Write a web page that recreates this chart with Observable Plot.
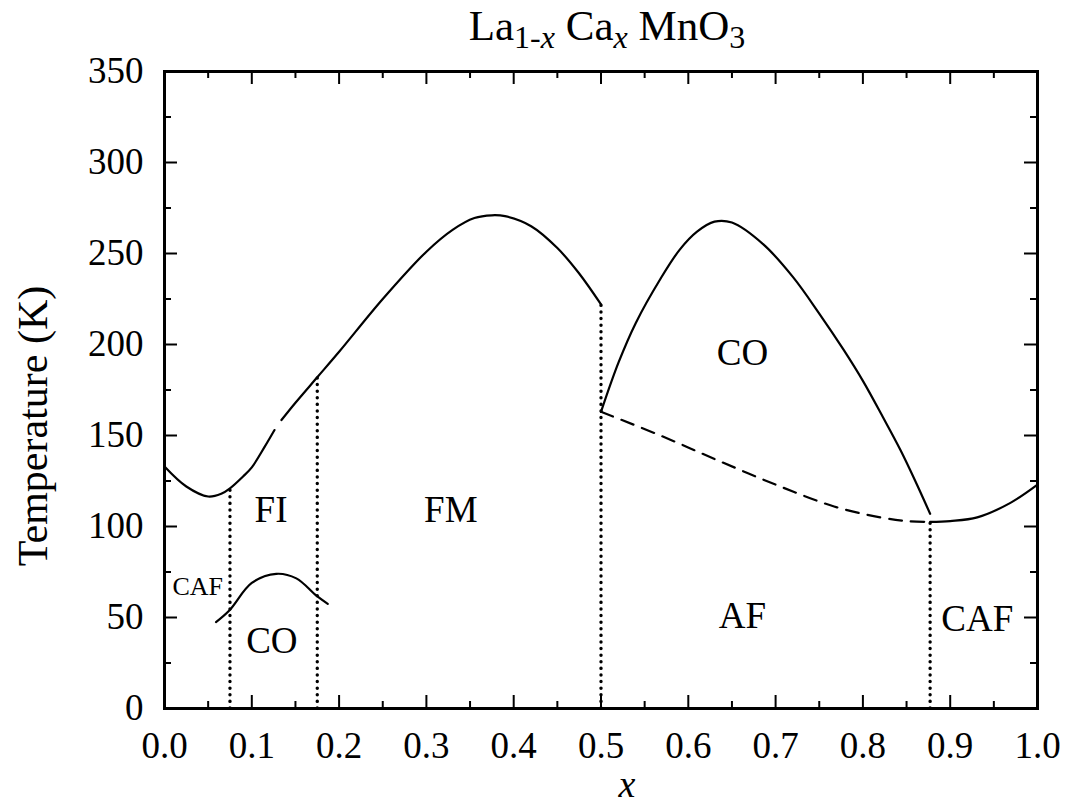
<!DOCTYPE html>
<html>
<head>
<meta charset="utf-8">
<script src="https://cdn.jsdelivr.net/npm/d3@7"></script>
<script src="https://cdn.jsdelivr.net/npm/@observablehq/plot@0.6"></script>
<style>
  body { margin: 0; background: #fff; }
  #chart svg { font-family: "Liberation Serif", "Times New Roman", serif; }
</style>
</head>
<body>
<div id="chart"></div>
<script>
// ---- data ----
const mainLeftX  = [0, 0.025, 0.05, 0.065, 0.075, 0.09, 0.1, 0.115, 0.126];
const mainLeftT  = [133, 122, 116.5, 118, 121, 127.5, 132.5, 144, 153];
const mainRightX = [0.134, 0.15, 0.175, 0.2, 0.25, 0.3, 0.33, 0.355, 0.375, 0.39, 0.42, 0.45, 0.475, 0.5];
const mainRightT = [158.5, 168, 182, 196, 225, 251, 263, 269.5, 271, 270.5, 265, 253, 239, 222];
const coDomeX = [0.5, 0.52, 0.54, 0.568, 0.59, 0.61, 0.63, 0.65, 0.686, 0.72, 0.75, 0.778, 0.8, 0.823, 0.843, 0.86, 0.877];
const coDomeT = [163, 190, 212, 236, 252, 262, 267.5, 267, 255, 237, 217, 197, 180, 160, 142, 125, 107];
const dashedX = [0.5, 0.568, 0.633, 0.7, 0.767, 0.82, 0.85, 0.877];
const dashedT = [163, 150, 136.5, 123, 111, 105, 103, 102.5];
const cafRightX = [0.877, 0.9, 0.931, 0.969, 1.0];
const cafRightT = [102.5, 103, 105, 113, 123];
const smallCoX = [0.059, 0.0745, 0.1, 0.128, 0.151, 0.174, 0.187];
const smallCoT = [47.5, 54, 69, 74, 71.5, 62, 57.5];
const boundaryX   = [0.075, 0.175, 0.5, 0.877];
const boundaryTop = [120, 183, 222, 102.5];

const regionText = ["FI", "FM", "CO", "AF", "CAF", "CO", "CAF"];
const regionX    = [0.122, 0.328, 0.662, 0.662, 0.931, 0.123, 0.038];
const regionT    = [109, 109, 195, 51, 49, 37, 67];
const regionSize = [37, 37, 37, 37, 37, 37, 26];

const xMajor = [0, 0.1, 0.2, 0.3, 0.4, 0.5, 0.6, 0.7, 0.8, 0.9, 1.0];
const xMinor = [0.05, 0.15, 0.25, 0.35, 0.45, 0.55, 0.65, 0.75, 0.85, 0.95];
const yMajor = [0, 50, 100, 150, 200, 250, 300, 350];
const yMinor = [25, 75, 125, 175, 225, 275, 325];

// ---- build tables ----
const zip = (xs, ts) => xs.map((x, i) => ({x, T: ts[i]}));
const mainLeft = zip(mainLeftX, mainLeftT);
const mainRight = zip(mainRightX, mainRightT);
const coDome = zip(coDomeX, coDomeT);
const dashed = zip(dashedX, dashedT);
const cafRight = zip(cafRightX, cafRightT);
const smallCo = zip(smallCoX, smallCoT);
const boundaries = boundaryX.map((x, i) => ({x, top: boundaryTop[i]}));
const regions = regionText.map((t, i) => ({t, x: regionX[i], T: regionT[i], s: regionSize[i]}));

const W = 1066, H = 806;
const mL = 164, mR = 29, mT = 71, mB = 98;
const pW = W - mL - mR, pH = H - mT - mB;
const majorLen = 13, minorLen = 7;

const solid = {x: "x", y: "T", stroke: "black", strokeWidth: 2.2, curve: "catmull-rom"};

const chart = Plot.plot({
  width: W, height: H,
  marginLeft: mL, marginRight: mR, marginTop: mT, marginBottom: mB,
  x: {domain: [0, 1]},
  y: {domain: [0, 350]},
  style: {fontFamily: "Liberation Serif, Times New Roman, serif", color: "black", background: "white"},
  marks: [
    // tick labels
    Plot.axisX({ticks: xMajor, tickSize: 0, tickPadding: 23, tickFormat: d3.format(".1f"), fontSize: 37, label: null}),
    Plot.axisY({ticks: yMajor, tickSize: 0, tickPadding: 21, tickFormat: d3.format("d"), fontSize: 37, label: null}),
    // inward tick marks on all four sides
    Plot.tickX(xMajor, {x: d => d, insetTop: pH - majorLen, stroke: "black", strokeWidth: 2}),
    Plot.tickX(xMinor, {x: d => d, insetTop: pH - minorLen, stroke: "black", strokeWidth: 2}),
    Plot.tickX(xMajor, {x: d => d, insetBottom: pH - majorLen, stroke: "black", strokeWidth: 2}),
    Plot.tickX(xMinor, {x: d => d, insetBottom: pH - minorLen, stroke: "black", strokeWidth: 2}),
    Plot.tickY(yMajor, {y: d => d, insetRight: pW - majorLen, stroke: "black", strokeWidth: 2}),
    Plot.tickY(yMinor, {y: d => d, insetRight: pW - minorLen, stroke: "black", strokeWidth: 2}),
    Plot.tickY(yMajor, {y: d => d, insetLeft: pW - majorLen, stroke: "black", strokeWidth: 2}),
    Plot.tickY(yMinor, {y: d => d, insetLeft: pW - minorLen, stroke: "black", strokeWidth: 2}),
    // phase boundaries
    Plot.ruleX(boundaries, {x: "x", y1: 0, y2: "top", stroke: "black", strokeWidth: 3.4, strokeDasharray: "0.1,6.5", strokeLinecap: "round"}),
    Plot.line(mainLeft, solid),
    Plot.line(mainRight, solid),
    Plot.line(coDome, solid),
    Plot.line(cafRight, solid),
    Plot.line(smallCo, solid),
    Plot.line(dashed, {x: "x", y: "T", stroke: "black", strokeWidth: 2.2, strokeDasharray: "13,9", curve: "catmull-rom"}),
    // region labels
    Plot.text(regions, {x: "x", y: "T", text: "t", fontSize: "s", fill: "black"}),
    // axis titles
    Plot.text(["x"], {frameAnchor: "bottom", lineAnchor: "middle", textAnchor: "middle", dy: 76, dx: 26, fontSize: 38, fontStyle: "italic", fill: "black"}),
    Plot.text(["Temperature (K)"], {frameAnchor: "left", textAnchor: "middle", lineAnchor: "middle", rotate: -90, dx: -131, dy: 36, fontSize: 42, fill: "black"}),
    Plot.frame({stroke: "black", strokeWidth: 3})
  ]
});

document.getElementById("chart").append(chart);

// title with subscripts
const svg = d3.select(chart);
const title = svg.append("text")
  .attr("x", 607).attr("y", 40)
  .attr("text-anchor", "middle")
  .attr("font-size", 43)
  .attr("fill", "black")
  .attr("font-family", "Liberation Serif, Times New Roman, serif");
title.append("tspan").text("La");
title.append("tspan").attr("font-size", 32).attr("dy", 8).text("1-");
title.append("tspan").attr("font-size", 32).attr("font-style", "italic").text("x");
title.append("tspan").attr("dy", -8).text(" Ca");
title.append("tspan").attr("font-size", 32).attr("dy", 8).attr("font-style", "italic").text("x");
title.append("tspan").attr("dy", -8).text(" MnO");
title.append("tspan").attr("font-size", 32).attr("dy", 8).text("3");
</script>
</body>
</html>
